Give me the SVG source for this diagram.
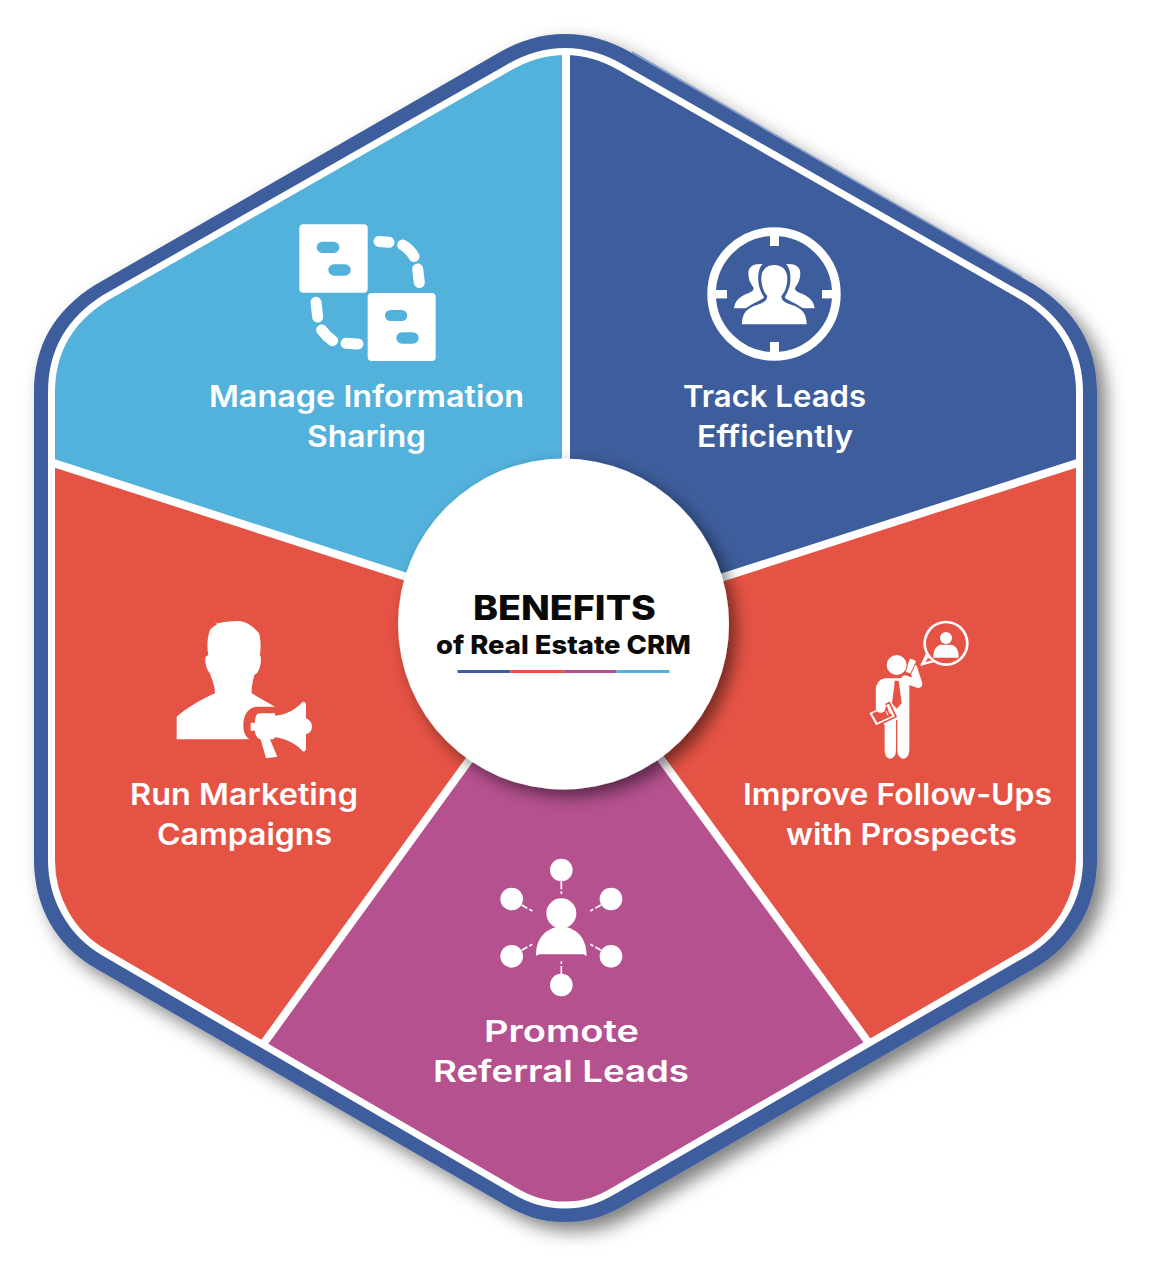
<svg xmlns="http://www.w3.org/2000/svg" width="1150" height="1280" viewBox="0 0 1150 1280">
<style>
.lbl{font-family:"Inter","Liberation Sans",sans-serif;font-weight:600;font-size:30px;fill:#fff}
.ttl{font-family:"Inter","Liberation Sans",sans-serif;font-weight:800;fill:#0a0a0a}
.div{stroke:#fff;stroke-width:8;fill:none}
.w{fill:#fff}
.dash{stroke:#fff;stroke-width:11;stroke-linecap:round;fill:none}
.thin{stroke:#fff;stroke-width:5;fill:none}
</style>
<defs>
<filter id="shadow" x="-10%" y="-10%" width="125%" height="125%"><feDropShadow dx="9" dy="9" stdDeviation="9" flood-color="#000" flood-opacity=".5"/></filter>
<filter id="cshadow" x="-20%" y="-20%" width="150%" height="150%"><feDropShadow dx="7" dy="7" stdDeviation="8" flood-color="#000" flood-opacity=".5"/></filter>
<clipPath id="inner"><path d="M565 51.5C587 51.5 605 58 622 68L1025 298C1060 320 1079.5 352 1079.5 392V860C1079.5 897 1060 933 1025 953L615 1190C598 1200 585 1205 565 1205C545 1205 530 1200 513 1190L105 953C70 933 51.5 897 51.5 860V392C51.5 352 70 320 105 298L508 68C525 58 543 51.5 565 51.5Z"/></clipPath>
<clipPath id="bub"><circle cx="288" cy="100" r="60"/></clipPath>
</defs>

<g id="hexagon">
<path d="M565 34C590 34 610 41 630 52L1035 285C1075 310 1097 345 1097 392V860C1097 905 1075 945 1035 968L625 1205C605 1216 590 1222 565 1222C540 1222 525 1216 505 1205L95 968C55 945 34 905 34 860V392C34 345 55 310 95 285L500 52C520 41 540 34 565 34Z" fill="#3E5D9C" filter="url(#shadow)"/>
<path d="M632 52L1022 277" stroke="#6C8AC2" stroke-width="1.5" fill="none" opacity=".8"/>
</g>

<g id="segments" clip-path="url(#inner)">
<rect x="0" y="0" width="1150" height="1280" fill="#E55345"/>
<polygon id="seg-manage" points="565,628 565,0 0,0 0,445" fill="#53B2DC"/>
<polygon id="seg-track" points="565,628 565,0 1150,0 1150,440" fill="#3E5D9C"/>
<polygon id="seg-promote" points="565,628 180,1160 180,1280 950,1280 950,1155" fill="#B5518F"/>
</g>

<g id="connectors">
<path class="div" d="M566 40V630M1090 459L565 628M41 459L565 628M240 1076L565 628M893 1076L565 628" clip-path="url(#inner)"/>
<path d="M565 51.5C587 51.5 605 58 622 68L1025 298C1060 320 1079.5 352 1079.5 392V860C1079.5 897 1060 933 1025 953L615 1190C598 1200 585 1205 565 1205C545 1205 530 1200 513 1190L105 953C70 933 51.5 897 51.5 860V392C51.5 352 70 320 105 298L508 68C525 58 543 51.5 565 51.5Z" fill="none" stroke="#fff" stroke-width="7"/>
</g>

<g id="node-manage">
<g id="icon-manage">
<rect class="w" x="299.3" y="224.3" width="68.4" height="68.4" rx="4"/>
<rect class="w" x="367.7" y="293" width="68" height="68" rx="4"/>
<g fill="#53B2DC">
<rect x="316.7" y="241.7" width="22.6" height="11.3" rx="5.6"/>
<rect x="328.3" y="264.3" width="22.4" height="11.4" rx="5.7"/>
<rect x="385" y="310" width="22.3" height="11" rx="5.5"/>
<rect x="396.3" y="332.3" width="22.4" height="11.4" rx="5.7"/>
</g>
<path class="dash" d="M379 241.5L389 242.3M402.7 245Q410 249 414 256.5M417.7 269L419.3 282.5M316 302.3L317.7 317M321.7 330Q326 336 332.7 340.7M346 343.3L358 344"/>
</g>
<text class="lbl" x="209" y="407" textLength="315" lengthAdjust="spacingAndGlyphs">Manage Information</text>
<text class="lbl" x="307" y="447" textLength="119" lengthAdjust="spacingAndGlyphs">Sharing</text>
</g>

<g id="node-track">
<g id="icon-track">
<circle cx="774" cy="294" r="62.4" fill="none" stroke="#fff" stroke-width="8.6"/>
<rect class="w" x="770" y="235" width="9" height="11"/>
<rect class="w" x="770" y="342" width="9" height="11"/>
<rect class="w" x="716" y="290" width="11" height="8.4"/>
<rect class="w" x="822" y="290" width="11" height="8.4"/>
<g transform="translate(690 210) scale(.3333)" class="w">
<path d="M132 295C134 272 150 258 178 248C190 244 192 238 190 232C180 220 175 205 175 190C175 170 190 160 218 162C208 172 203 190 205 215C207 235 215 250 222 262C215 272 190 278 175 290Q168 294 165 295Z"/>
<path d="M374 295C372 272 356 258 328 248C316 244 314 238 316 232C326 220 331 205 331 190C331 170 316 160 288 162C298 172 303 190 301 215C299 235 291 250 284 262C291 272 316 278 331 290Q338 294 341 295Z"/>
<path d="M156 343C156 310 170 295 200 285C225 278 232 268 232 258C220 245 214 225 214 205C214 180 230 165 253 165C276 165 292 180 292 205C292 225 286 245 274 258C274 268 281 278 306 285C336 295 350 310 350 343Z"/>
</g>
</g>
<text class="lbl" x="683" y="407" textLength="183" lengthAdjust="spacingAndGlyphs">Track Leads</text>
<text class="lbl" x="697" y="447" textLength="156" lengthAdjust="spacingAndGlyphs">Efficiently</text>
</g>

<g id="node-improve">
<g id="icon-improve" transform="translate(850 610) scale(.3333)">
<polygon class="w" points="228,130 210,168 252,157"/>
<circle class="w" cx="288" cy="100" r="68"/>
<circle cx="288" cy="100" r="60" fill="#E55345"/>
<polygon points="234,143 226,157 246,151" fill="#E55345"/>
<g clip-path="url(#bub)" class="w">
<circle cx="288" cy="84" r="18"/>
<path d="M250 143C250 118 258 108 272 104L304 104C318 108 326 118 326 143Z"/>
</g>
<path class="w" d="M105 205H178V420Q176 446 160 446Q143 446 142 420V330H138V420Q137 446 120 446Q105 446 104 420V345L78 320V240Q78 210 105 205Z"/>
<path d="M165 208L205 222L190 175" fill="none" stroke="#fff" stroke-width="24" stroke-linejoin="round" stroke-linecap="round"/>
<rect x="170" y="146" width="22" height="44" rx="4" transform="rotate(25 181 168)" fill="#fff" stroke="#E55345" stroke-width="3"/>
<circle cx="140" cy="165" r="33" fill="#E55345"/>
<circle class="w" cx="140" cy="165" r="30"/>
<polygon points="134,212 146,212 148,226 155,280 140,296 126,280 133,226" fill="#E55345"/>
<polygon points="55,308 118,278 138,320 77,349" fill="#fff" stroke="#E55345" stroke-width="5"/>
<polygon points="66,311 110,289 127,317 82,338" fill="#E55345"/>
<path d="M108 303L114 316M115 300L121 312" stroke="#fff" stroke-width="3"/>
<path d="M92 235V294" stroke="#fff" stroke-width="29" stroke-linecap="round"/>
<path d="M108 240V290" stroke="#E55345" stroke-width="0"/>
</g>
<text class="lbl" x="743" y="805" textLength="309" lengthAdjust="spacingAndGlyphs">Improve Follow-Ups</text>
<text class="lbl" x="786" y="845" textLength="231" lengthAdjust="spacingAndGlyphs">with Prospects</text>
</g>

<g id="node-run">
<g id="icon-run" transform="translate(160 610) scale(.3333)" class="w">
<path d="M163 33L172 40C190 35 220 32 240 33C270 40 285 55 297 70C303 90 303 110 300 135C306 145 302 175 292 188L283 195C278 215 274 230 275 250L345 290H290C265 292 250 315 250 345C250 365 255 378 268 388H50V320C80 295 120 270 165 250C165 225 155 210 150 190C140 180 133 155 137 140L145 135C140 110 142 80 150 60C158 50 168 45 172 42Z"/>
<path d="M272 338H285C285 320 290 310 300 310H345V317C375 315 405 300 425 278C432 272 438 278 438 285V325C450 330 456 340 456 350C456 360 450 370 438 372V415C438 425 430 428 425 420C405 400 375 385 345 382L340 388H330L352 440L318 445L302 388C292 385 285 375 285 362H272Z"/>
</g>
<text class="lbl" x="130" y="805" textLength="228" lengthAdjust="spacingAndGlyphs">Run Marketing</text>
<text class="lbl" x="157" y="845" textLength="175" lengthAdjust="spacingAndGlyphs">Campaigns</text>
</g>

<g id="node-promote">
<g id="icon-promote" transform="translate(490 850) scale(.3333)">
<g class="w">
<circle cx="214" cy="60" r="34"/><circle cx="65" cy="147" r="34"/><circle cx="363" cy="147" r="34"/>
<circle cx="65" cy="319" r="34"/><circle cx="363" cy="319" r="34"/><circle cx="214" cy="405" r="34"/>
<circle cx="214" cy="190" r="45"/>
<path d="M138 318C138 265 165 235 214 228C263 235 290 265 290 318L280 313H148Z"/>
</g>
<path class="thin" d="M214 94V118M214 124V132M214 334V342M214 348V372M95 165L112 175M118 178L127 183M333 165L316 175M310 178L301 183M95 301L112 291M118 288L127 283M333 301L316 291M310 288L301 283"/>
</g>
<text class="lbl" x="484" y="1042" textLength="155" lengthAdjust="spacingAndGlyphs">Promote</text>
<text class="lbl" x="433" y="1082" textLength="256" lengthAdjust="spacingAndGlyphs">Referral Leads</text>
</g>

<g id="node-center">
<circle cx="563.5" cy="624" r="165.5" fill="#fff" filter="url(#cshadow)"/>
<text class="ttl" x="473" y="620" font-size="34.5" textLength="183" lengthAdjust="spacingAndGlyphs">BENEFITS</text>
<text class="ttl" x="436" y="654" font-size="26" font-weight="700" textLength="255" lengthAdjust="spacingAndGlyphs">of Real Estate CRM</text>
<rect x="457.5" y="670" width="53" height="3" fill="#3E5D9C"/>
<rect x="510.5" y="670" width="53" height="3" fill="#E55345"/>
<rect x="563.5" y="670" width="53" height="3" fill="#B5518F"/>
<rect x="616.5" y="670" width="53" height="3" fill="#53B2DC"/>
</g>
</svg>
